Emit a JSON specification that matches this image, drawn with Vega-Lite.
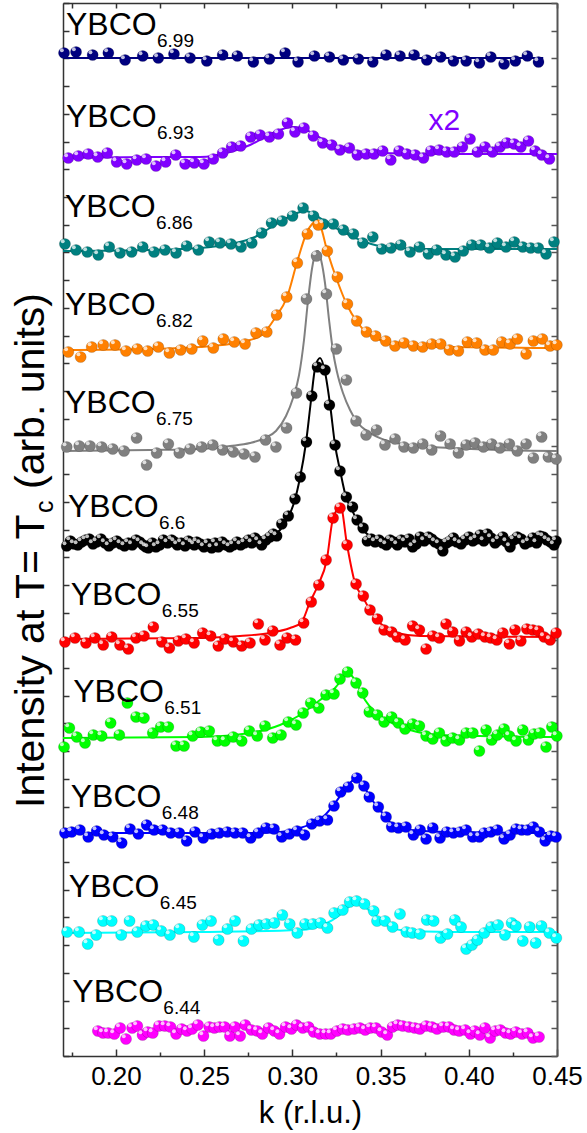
{
"$schema":"https://vega.github.io/schema/vega-lite/v6.json",
"width":494,"height":1053,
"autosize":{"type":"none"},
"padding":{"left":63,"top":3,"right":30,"bottom":77},
"background":"white",
"config":{"view":{"stroke":null},"font":"Liberation Sans"},
"datasets":{
"pts":[
{"s":"6.99","k":0.1706,"I":1003},{"s":"6.99","k":0.1774,"I":1004},{"s":"6.99","k":0.1868,"I":1001},{"s":"6.99","k":0.1957,"I":1003},{"s":"6.99","k":0.2052,"I":996},{"s":"6.99","k":0.2152,"I":1000},{"s":"6.99","k":0.224,"I":998},{"s":"6.99","k":0.2329,"I":1002},{"s":"6.99","k":0.242,"I":998},{"s":"6.99","k":0.2515,"I":995},{"s":"6.99","k":0.2605,"I":1001},{"s":"6.99","k":0.2688,"I":1000},{"s":"6.99","k":0.2779,"I":994},{"s":"6.99","k":0.287,"I":997},{"s":"6.99","k":0.2959,"I":1003},{"s":"6.99","k":0.3032,"I":994},{"s":"6.99","k":0.3125,"I":1000},{"s":"6.99","k":0.321,"I":999},{"s":"6.99","k":0.3289,"I":996},{"s":"6.99","k":0.3374,"I":997},{"s":"6.99","k":0.3456,"I":994},{"s":"6.99","k":0.3531,"I":1001},{"s":"6.99","k":0.361,"I":1000},{"s":"6.99","k":0.369,"I":1001},{"s":"6.99","k":0.3762,"I":996},{"s":"6.99","k":0.3841,"I":999},{"s":"6.99","k":0.3913,"I":995},{"s":"6.99","k":0.3985,"I":995},{"s":"6.99","k":0.406,"I":993},{"s":"6.99","k":0.4125,"I":999},{"s":"6.99","k":0.42,"I":992},{"s":"6.99","k":0.4264,"I":995},{"s":"6.99","k":0.4332,"I":1000},{"s":"6.99","k":0.4395,"I":994},
{"s":"6.93","k":0.173,"I":898},{"s":"6.93","k":0.1787,"I":900},{"s":"6.93","k":0.1843,"I":902},{"s":"6.93","k":0.1897,"I":899},{"s":"6.93","k":0.1951,"I":903},{"s":"6.93","k":0.2004,"I":894},{"s":"6.93","k":0.2061,"I":892},{"s":"6.93","k":0.2118,"I":896},{"s":"6.93","k":0.2171,"I":897},{"s":"6.93","k":0.2227,"I":890},{"s":"6.93","k":0.2282,"I":894},{"s":"6.93","k":0.2339,"I":901},{"s":"6.93","k":0.2392,"I":892},{"s":"6.93","k":0.2444,"I":893},{"s":"6.93","k":0.2499,"I":892},{"s":"6.93","k":0.2552,"I":897},{"s":"6.93","k":0.2605,"I":903},{"s":"6.93","k":0.2656,"I":909},{"s":"6.93","k":0.2707,"I":910},{"s":"6.93","k":0.2764,"I":919},{"s":"6.93","k":0.2817,"I":921},{"s":"6.93","k":0.287,"I":919},{"s":"6.93","k":0.2921,"I":922},{"s":"6.93","k":0.2972,"I":933},{"s":"6.93","k":0.3015,"I":924},{"s":"6.93","k":0.3066,"I":928},{"s":"6.93","k":0.3119,"I":920},{"s":"6.93","k":0.3172,"I":913},{"s":"6.93","k":0.3223,"I":911},{"s":"6.93","k":0.327,"I":906},{"s":"6.93","k":0.3323,"I":908},{"s":"6.93","k":0.3368,"I":901},{"s":"6.93","k":0.3418,"I":902},{"s":"6.93","k":0.3463,"I":902},{"s":"6.93","k":0.3512,"I":905},{"s":"6.93","k":0.3558,"I":896},{"s":"6.93","k":0.3605,"I":905},{"s":"6.93","k":0.3649,"I":902},{"s":"6.93","k":0.3696,"I":901},{"s":"6.93","k":0.3743,"I":898},{"s":"6.93","k":0.3785,"I":905},{"s":"6.93","k":0.3832,"I":906},{"s":"6.93","k":0.3875,"I":904},{"s":"6.93","k":0.3918,"I":904},{"s":"6.93","k":0.3964,"I":909},{"s":"6.93","k":0.4007,"I":917},{"s":"6.93","k":0.4049,"I":904},{"s":"6.93","k":0.4092,"I":909},{"s":"6.93","k":0.4134,"I":904},{"s":"6.93","k":0.4177,"I":909},{"s":"6.93","k":0.4215,"I":913},{"s":"6.93","k":0.4257,"I":912},{"s":"6.93","k":0.4295,"I":909},{"s":"6.93","k":0.4338,"I":915},{"s":"6.93","k":0.4376,"I":905},{"s":"6.93","k":0.4414,"I":901},{"s":"6.93","k":0.4457,"I":897},
{"s":"6.86","k":0.1711,"I":812},{"s":"6.86","k":0.1774,"I":806},{"s":"6.86","k":0.1838,"I":804},{"s":"6.86","k":0.19,"I":801},{"s":"6.86","k":0.1962,"I":809},{"s":"6.86","k":0.2023,"I":803},{"s":"6.86","k":0.2089,"I":804},{"s":"6.86","k":0.2152,"I":809},{"s":"6.86","k":0.2216,"I":804},{"s":"6.86","k":0.2278,"I":806},{"s":"6.86","k":0.2341,"I":803},{"s":"6.86","k":0.2401,"I":810},{"s":"6.86","k":0.2467,"I":806},{"s":"6.86","k":0.2529,"I":814},{"s":"6.86","k":0.259,"I":813},{"s":"6.86","k":0.2652,"I":812},{"s":"6.86","k":0.2709,"I":809},{"s":"6.86","k":0.277,"I":813},{"s":"6.86","k":0.2826,"I":823},{"s":"6.86","k":0.2882,"I":833},{"s":"6.86","k":0.2942,"I":835},{"s":"6.86","k":0.3001,"I":840},{"s":"6.86","k":0.3061,"I":848},{"s":"6.86","k":0.312,"I":840},{"s":"6.86","k":0.3176,"I":832},{"s":"6.86","k":0.3232,"I":832},{"s":"6.86","k":0.3289,"I":826},{"s":"6.86","k":0.3346,"I":822},{"s":"6.86","k":0.3399,"I":813},{"s":"6.86","k":0.3456,"I":819},{"s":"6.86","k":0.3507,"I":807},{"s":"6.86","k":0.3559,"I":808},{"s":"6.86","k":0.3614,"I":811},{"s":"6.86","k":0.3667,"I":804},{"s":"6.86","k":0.372,"I":809},{"s":"6.86","k":0.3771,"I":802},{"s":"6.86","k":0.3818,"I":806},{"s":"6.86","k":0.3871,"I":801},{"s":"6.86","k":0.3922,"I":799},{"s":"6.86","k":0.3969,"I":805},{"s":"6.86","k":0.4017,"I":811},{"s":"6.86","k":0.4068,"I":811},{"s":"6.86","k":0.4117,"I":808},{"s":"6.86","k":0.4162,"I":813},{"s":"6.86","k":0.4211,"I":809},{"s":"6.86","k":0.4258,"I":814},{"s":"6.86","k":0.4306,"I":809},{"s":"6.86","k":0.4351,"I":808},{"s":"6.86","k":0.4394,"I":808},{"s":"6.86","k":0.4438,"I":802},{"s":"6.86","k":0.4483,"I":814},
{"s":"6.82","k":0.173,"I":704},{"s":"6.82","k":0.18,"I":699},{"s":"6.82","k":0.1863,"I":709},{"s":"6.82","k":0.1928,"I":711},{"s":"6.82","k":0.1995,"I":711},{"s":"6.82","k":0.2057,"I":705},{"s":"6.82","k":0.2121,"I":707},{"s":"6.82","k":0.218,"I":705},{"s":"6.82","k":0.224,"I":709},{"s":"6.82","k":0.2303,"I":703},{"s":"6.82","k":0.2367,"I":706},{"s":"6.82","k":0.243,"I":707},{"s":"6.82","k":0.2492,"I":715},{"s":"6.82","k":0.2552,"I":708},{"s":"6.82","k":0.2609,"I":717},{"s":"6.82","k":0.2671,"I":714},{"s":"6.82","k":0.2732,"I":712},{"s":"6.82","k":0.2794,"I":723},{"s":"6.82","k":0.2855,"I":724},{"s":"6.82","k":0.2911,"I":741},{"s":"6.82","k":0.2968,"I":759},{"s":"6.82","k":0.3028,"I":793},{"s":"6.82","k":0.3085,"I":822},{"s":"6.82","k":0.3147,"I":831},{"s":"6.82","k":0.3198,"I":805},{"s":"6.82","k":0.3255,"I":779},{"s":"6.82","k":0.3312,"I":752},{"s":"6.82","k":0.3365,"I":735},{"s":"6.82","k":0.342,"I":724},{"s":"6.82","k":0.3472,"I":720},{"s":"6.82","k":0.3529,"I":715},{"s":"6.82","k":0.3582,"I":710},{"s":"6.82","k":0.3633,"I":713},{"s":"6.82","k":0.3686,"I":710},{"s":"6.82","k":0.3739,"I":709},{"s":"6.82","k":0.379,"I":712},{"s":"6.82","k":0.3841,"I":712},{"s":"6.82","k":0.389,"I":706},{"s":"6.82","k":0.3941,"I":705},{"s":"6.82","k":0.3992,"I":714},{"s":"6.82","k":0.4045,"I":713},{"s":"6.82","k":0.4092,"I":706},{"s":"6.82","k":0.4139,"I":706},{"s":"6.82","k":0.4187,"I":714},{"s":"6.82","k":0.4234,"I":712},{"s":"6.82","k":0.4275,"I":717},{"s":"6.82","k":0.4325,"I":702},{"s":"6.82","k":0.4366,"I":715},{"s":"6.82","k":0.4417,"I":717},{"s":"6.82","k":0.4461,"I":710},{"s":"6.82","k":0.4499,"I":711},
{"s":"6.75","k":0.1721,"I":609},{"s":"6.75","k":0.1792,"I":610},{"s":"6.75","k":0.1853,"I":610},{"s":"6.75","k":0.1919,"I":609},{"s":"6.75","k":0.1982,"I":607},{"s":"6.75","k":0.2046,"I":605},{"s":"6.75","k":0.2117,"I":618},{"s":"6.75","k":0.2174,"I":591},{"s":"6.75","k":0.2231,"I":603},{"s":"6.75","k":0.2297,"I":612},{"s":"6.75","k":0.2359,"I":603},{"s":"6.75","k":0.242,"I":607},{"s":"6.75","k":0.2486,"I":609},{"s":"6.75","k":0.2549,"I":611},{"s":"6.75","k":0.2605,"I":606},{"s":"6.75","k":0.2665,"I":604},{"s":"6.75","k":0.2726,"I":602},{"s":"6.75","k":0.2788,"I":599},{"s":"6.75","k":0.2848,"I":616},{"s":"6.75","k":0.2907,"I":609},{"s":"6.75","k":0.2967,"I":628},{"s":"6.75","k":0.3023,"I":663},{"s":"6.75","k":0.308,"I":757},{"s":"6.75","k":0.3137,"I":800},{"s":"6.75","k":0.3193,"I":762},{"s":"6.75","k":0.3249,"I":707},{"s":"6.75","k":0.3306,"I":676},{"s":"6.75","k":0.3361,"I":635},{"s":"6.75","k":0.3418,"I":621},{"s":"6.75","k":0.3477,"I":626},{"s":"6.75","k":0.3525,"I":611},{"s":"6.75","k":0.3582,"I":617},{"s":"6.75","k":0.3633,"I":609},{"s":"6.75","k":0.3686,"I":608},{"s":"6.75","k":0.3739,"I":612},{"s":"6.75","k":0.379,"I":606},{"s":"6.75","k":0.384,"I":620},{"s":"6.75","k":0.3894,"I":612},{"s":"6.75","k":0.3941,"I":603},{"s":"6.75","k":0.3985,"I":611},{"s":"6.75","k":0.4036,"I":613},{"s":"6.75","k":0.4083,"I":609},{"s":"6.75","k":0.413,"I":612},{"s":"6.75","k":0.4177,"I":608},{"s":"6.75","k":0.423,"I":612},{"s":"6.75","k":0.4275,"I":605},{"s":"6.75","k":0.4325,"I":612},{"s":"6.75","k":0.4366,"I":598},{"s":"6.75","k":0.4413,"I":619},{"s":"6.75","k":0.4451,"I":599},{"s":"6.75","k":0.4495,"I":597},
{"s":"6.6","k":0.1721,"I":510},{"s":"6.6","k":0.1762,"I":512},{"s":"6.6","k":0.1806,"I":514},{"s":"6.6","k":0.1849,"I":517},{"s":"6.6","k":0.1891,"I":514},{"s":"6.6","k":0.1938,"I":513},{"s":"6.6","k":0.1982,"I":513},{"s":"6.6","k":0.2027,"I":512},{"s":"6.6","k":0.207,"I":513},{"s":"6.6","k":0.2114,"I":516},{"s":"6.6","k":0.2155,"I":511},{"s":"6.6","k":0.2184,"I":508},{"s":"6.6","k":0.2227,"I":509},{"s":"6.6","k":0.2269,"I":516},{"s":"6.6","k":0.2316,"I":516},{"s":"6.6","k":0.2348,"I":511},{"s":"6.6","k":0.2392,"I":510},{"s":"6.6","k":0.243,"I":513},{"s":"6.6","k":0.2458,"I":514},{"s":"6.6","k":0.2499,"I":509},{"s":"6.6","k":0.2543,"I":508},{"s":"6.6","k":0.258,"I":509},{"s":"6.6","k":0.2624,"I":511},{"s":"6.6","k":0.2665,"I":511},{"s":"6.6","k":0.2707,"I":511},{"s":"6.6","k":0.2751,"I":516},{"s":"6.6","k":0.2788,"I":518},{"s":"6.6","k":0.2826,"I":511},{"s":"6.6","k":0.2873,"I":519},{"s":"6.6","k":0.2911,"I":520},{"s":"6.6","k":0.294,"I":532},{"s":"6.6","k":0.2977,"I":540},{"s":"6.6","k":0.3015,"I":557},{"s":"6.6","k":0.3045,"I":579},{"s":"6.6","k":0.308,"I":614},{"s":"6.6","k":0.311,"I":660},{"s":"6.6","k":0.3142,"I":689},{"s":"6.6","k":0.3185,"I":686},{"s":"6.6","k":0.321,"I":651},{"s":"6.6","k":0.3242,"I":611},{"s":"6.6","k":0.327,"I":585},{"s":"6.6","k":0.3306,"I":559},{"s":"6.6","k":0.3341,"I":549},{"s":"6.6","k":0.3367,"I":536},{"s":"6.6","k":0.3401,"I":528},{"s":"6.6","k":0.3425,"I":515},{"s":"6.6","k":0.3469,"I":514},{"s":"6.6","k":0.3512,"I":513},{"s":"6.6","k":0.3554,"I":516},{"s":"6.6","k":0.3595,"I":511},{"s":"6.6","k":0.3639,"I":514},{"s":"6.6","k":0.3682,"I":509},{"s":"6.6","k":0.3724,"I":519},{"s":"6.6","k":0.3771,"I":519},{"s":"6.6","k":0.3809,"I":514},{"s":"6.6","k":0.3853,"I":505},{"s":"6.6","k":0.3894,"I":515},{"s":"6.6","k":0.3932,"I":514},{"s":"6.6","k":0.3979,"I":516},{"s":"6.6","k":0.4023,"I":515},{"s":"6.6","k":0.4064,"I":521},{"s":"6.6","k":0.4105,"I":522},{"s":"6.6","k":0.4149,"I":513},{"s":"6.6","k":0.4193,"I":519},{"s":"6.6","k":0.4234,"I":509},{"s":"6.6","k":0.4275,"I":519},{"s":"6.6","k":0.4319,"I":512},{"s":"6.6","k":0.4363,"I":518},{"s":"6.6","k":0.4404,"I":520},{"s":"6.6","k":0.4442,"I":516},{"s":"6.6","k":0.4483,"I":511},
{"s":"6.6","k":0.1742,"I":515},{"s":"6.6","k":0.1784,"I":511},{"s":"6.6","k":0.1828,"I":516},{"s":"6.6","k":0.187,"I":512},{"s":"6.6","k":0.1915,"I":517},{"s":"6.6","k":0.196,"I":510},{"s":"6.6","k":0.2005,"I":515},{"s":"6.6","k":0.2049,"I":510},{"s":"6.6","k":0.2092,"I":511},{"s":"6.6","k":0.2135,"I":514},{"s":"6.6","k":0.217,"I":509},{"s":"6.6","k":0.2206,"I":513},{"s":"6.6","k":0.2248,"I":511},{"s":"6.6","k":0.2293,"I":513},{"s":"6.6","k":0.2332,"I":514},{"s":"6.6","k":0.237,"I":513},{"s":"6.6","k":0.2411,"I":515},{"s":"6.6","k":0.2444,"I":511},{"s":"6.6","k":0.2479,"I":512},{"s":"6.6","k":0.2521,"I":512},{"s":"6.6","k":0.2562,"I":513},{"s":"6.6","k":0.2602,"I":514},{"s":"6.6","k":0.2645,"I":509},{"s":"6.6","k":0.2686,"I":514},{"s":"6.6","k":0.2729,"I":513},{"s":"6.6","k":0.277,"I":513},{"s":"6.6","k":0.2807,"I":515},{"s":"6.6","k":0.285,"I":516},{"s":"6.6","k":0.2892,"I":522},{"s":"6.6","k":0.3447,"I":517},{"s":"6.6","k":0.3491,"I":516},{"s":"6.6","k":0.3533,"I":511},{"s":"6.6","k":0.3575,"I":514},{"s":"6.6","k":0.3617,"I":516},{"s":"6.6","k":0.3661,"I":517},{"s":"6.6","k":0.3703,"I":512},{"s":"6.6","k":0.3748,"I":515},{"s":"6.6","k":0.379,"I":517},{"s":"6.6","k":0.3831,"I":512},{"s":"6.6","k":0.3874,"I":513},{"s":"6.6","k":0.3913,"I":518},{"s":"6.6","k":0.3956,"I":512},{"s":"6.6","k":0.4001,"I":519},{"s":"6.6","k":0.4044,"I":517},{"s":"6.6","k":0.4085,"I":515},{"s":"6.6","k":0.4127,"I":518},{"s":"6.6","k":0.4171,"I":516},{"s":"6.6","k":0.4214,"I":514},{"s":"6.6","k":0.4255,"I":516},{"s":"6.6","k":0.4297,"I":517},{"s":"6.6","k":0.4341,"I":514},{"s":"6.6","k":0.4384,"I":513},{"s":"6.6","k":0.4423,"I":519},{"s":"6.6","k":0.4463,"I":514},{"s":"6.6","k":0.4495,"I":515},
{"s":"6.55","k":0.1711,"I":414},{"s":"6.55","k":0.1768,"I":418},{"s":"6.55","k":0.183,"I":413},{"s":"6.55","k":0.1881,"I":418},{"s":"6.55","k":0.1928,"I":411},{"s":"6.55","k":0.1976,"I":419},{"s":"6.55","k":0.2023,"I":411},{"s":"6.55","k":0.207,"I":407},{"s":"6.55","k":0.2114,"I":418},{"s":"6.55","k":0.2159,"I":420},{"s":"6.55","k":0.2212,"I":429},{"s":"6.55","k":0.226,"I":414},{"s":"6.55","k":0.2303,"I":408},{"s":"6.55","k":0.2354,"I":415},{"s":"6.55","k":0.2397,"I":417},{"s":"6.55","k":0.2443,"I":413},{"s":"6.55","k":0.2492,"I":423},{"s":"6.55","k":0.2537,"I":420},{"s":"6.55","k":0.258,"I":410},{"s":"6.55","k":0.2618,"I":417},{"s":"6.55","k":0.2665,"I":414},{"s":"6.55","k":0.2713,"I":410},{"s":"6.55","k":0.276,"I":413},{"s":"6.55","k":0.2807,"I":432},{"s":"6.55","k":0.2845,"I":416},{"s":"6.55","k":0.2889,"I":425},{"s":"6.55","k":0.293,"I":411},{"s":"6.55","k":0.297,"I":418},{"s":"6.55","k":0.3018,"I":416},{"s":"6.55","k":0.3064,"I":433},{"s":"6.55","k":0.3107,"I":454},{"s":"6.55","k":0.315,"I":471},{"s":"6.55","k":0.3191,"I":496},{"s":"6.55","k":0.3231,"I":538},{"s":"6.55","k":0.327,"I":548},{"s":"6.55","k":0.331,"I":511},{"s":"6.55","k":0.3361,"I":472},{"s":"6.55","k":0.3402,"I":460},{"s":"6.55","k":0.344,"I":446},{"s":"6.55","k":0.3482,"I":437},{"s":"6.55","k":0.352,"I":426},{"s":"6.55","k":0.3563,"I":424},{"s":"6.55","k":0.3595,"I":419},{"s":"6.55","k":0.3639,"I":416},{"s":"6.55","k":0.3682,"I":430},{"s":"6.55","k":0.372,"I":426},{"s":"6.55","k":0.3758,"I":407},{"s":"6.55","k":0.3796,"I":420},{"s":"6.55","k":0.3833,"I":418},{"s":"6.55","k":0.3871,"I":432},{"s":"6.55","k":0.3909,"I":424},{"s":"6.55","k":0.3947,"I":415},{"s":"6.55","k":0.3985,"I":424},{"s":"6.55","k":0.4017,"I":419},{"s":"6.55","k":0.4054,"I":422},{"s":"6.55","k":0.4092,"I":419},{"s":"6.55","k":0.4125,"I":418},{"s":"6.55","k":0.4159,"I":416},{"s":"6.55","k":0.4193,"I":423},{"s":"6.55","k":0.423,"I":412},{"s":"6.55","k":0.4262,"I":426},{"s":"6.55","k":0.4295,"I":415},{"s":"6.55","k":0.4329,"I":427},{"s":"6.55","k":0.4363,"I":426},{"s":"6.55","k":0.4395,"I":425},{"s":"6.55","k":0.4427,"I":419},{"s":"6.55","k":0.4461,"I":416},{"s":"6.55","k":0.4495,"I":423},
{"s":"6.51","k":0.1706,"I":309},{"s":"6.51","k":0.1736,"I":328},{"s":"6.51","k":0.1778,"I":319},{"s":"6.51","k":0.1825,"I":313},{"s":"6.51","k":0.1872,"I":321},{"s":"6.51","k":0.1919,"I":320},{"s":"6.51","k":0.197,"I":333},{"s":"6.51","k":0.2019,"I":321},{"s":"6.51","k":0.2065,"I":353},{"s":"6.51","k":0.2114,"I":339},{"s":"6.51","k":0.2159,"I":338},{"s":"6.51","k":0.2209,"I":323},{"s":"6.51","k":0.2254,"I":329},{"s":"6.51","k":0.2297,"I":329},{"s":"6.51","k":0.2341,"I":310},{"s":"6.51","k":0.2386,"I":310},{"s":"6.51","k":0.2435,"I":320},{"s":"6.51","k":0.2481,"I":324},{"s":"6.51","k":0.2529,"I":325},{"s":"6.51","k":0.2575,"I":315},{"s":"6.51","k":0.2618,"I":315},{"s":"6.51","k":0.2665,"I":319},{"s":"6.51","k":0.2713,"I":315},{"s":"6.51","k":0.2756,"I":325},{"s":"6.51","k":0.2801,"I":320},{"s":"6.51","k":0.2845,"I":330},{"s":"6.51","k":0.2889,"I":318},{"s":"6.51","k":0.2936,"I":321},{"s":"6.51","k":0.2977,"I":334},{"s":"6.51","k":0.3021,"I":331},{"s":"6.51","k":0.3061,"I":343},{"s":"6.51","k":0.3104,"I":353},{"s":"6.51","k":0.315,"I":348},{"s":"6.51","k":0.3191,"I":361},{"s":"6.51","k":0.3236,"I":362},{"s":"6.51","k":0.327,"I":377},{"s":"6.51","k":0.3313,"I":384},{"s":"6.51","k":0.3361,"I":373},{"s":"6.51","k":0.3399,"I":363},{"s":"6.51","k":0.3436,"I":344},{"s":"6.51","k":0.3482,"I":341},{"s":"6.51","k":0.352,"I":334},{"s":"6.51","k":0.3563,"I":339},{"s":"6.51","k":0.3601,"I":333},{"s":"6.51","k":0.3639,"I":327},{"s":"6.51","k":0.3682,"I":332},{"s":"6.51","k":0.372,"I":330},{"s":"6.51","k":0.3758,"I":320},{"s":"6.51","k":0.3796,"I":317},{"s":"6.51","k":0.3833,"I":323},{"s":"6.51","k":0.3871,"I":315},{"s":"6.51","k":0.3909,"I":318},{"s":"6.51","k":0.3947,"I":316},{"s":"6.51","k":0.3985,"I":323},{"s":"6.51","k":0.4023,"I":323},{"s":"6.51","k":0.406,"I":305},{"s":"6.51","k":0.4098,"I":326},{"s":"6.51","k":0.413,"I":316},{"s":"6.51","k":0.4162,"I":321},{"s":"6.51","k":0.42,"I":327},{"s":"6.51","k":0.423,"I":320},{"s":"6.51","k":0.4268,"I":315},{"s":"6.51","k":0.4306,"I":326},{"s":"6.51","k":0.4338,"I":316},{"s":"6.51","k":0.437,"I":322},{"s":"6.51","k":0.4404,"I":323},{"s":"6.51","k":0.4438,"I":309},{"s":"6.51","k":0.4471,"I":329},{"s":"6.51","k":0.4499,"I":320},
{"s":"6.48","k":0.1711,"I":223},{"s":"6.48","k":0.1749,"I":224},{"s":"6.48","k":0.1796,"I":226},{"s":"6.48","k":0.1843,"I":219},{"s":"6.48","k":0.1891,"I":225},{"s":"6.48","k":0.1932,"I":221},{"s":"6.48","k":0.1982,"I":219},{"s":"6.48","k":0.2033,"I":213},{"s":"6.48","k":0.208,"I":227},{"s":"6.48","k":0.2127,"I":222},{"s":"6.48","k":0.2174,"I":231},{"s":"6.48","k":0.2216,"I":226},{"s":"6.48","k":0.2265,"I":226},{"s":"6.48","k":0.2311,"I":223},{"s":"6.48","k":0.2359,"I":223},{"s":"6.48","k":0.2401,"I":215},{"s":"6.48","k":0.2448,"I":224},{"s":"6.48","k":0.2495,"I":218},{"s":"6.48","k":0.2543,"I":222},{"s":"6.48","k":0.2586,"I":223},{"s":"6.48","k":0.2631,"I":224},{"s":"6.48","k":0.2675,"I":223},{"s":"6.48","k":0.2719,"I":223},{"s":"6.48","k":0.2764,"I":218},{"s":"6.48","k":0.2807,"I":223},{"s":"6.48","k":0.2851,"I":228},{"s":"6.48","k":0.2896,"I":227},{"s":"6.48","k":0.294,"I":219},{"s":"6.48","k":0.2983,"I":222},{"s":"6.48","k":0.3027,"I":225},{"s":"6.48","k":0.3069,"I":221},{"s":"6.48","k":0.311,"I":232},{"s":"6.48","k":0.3155,"I":235},{"s":"6.48","k":0.3199,"I":236},{"s":"6.48","k":0.3236,"I":250},{"s":"6.48","k":0.3274,"I":264},{"s":"6.48","k":0.3317,"I":269},{"s":"6.48","k":0.3365,"I":278},{"s":"6.48","k":0.3406,"I":270},{"s":"6.48","k":0.3436,"I":259},{"s":"6.48","k":0.3487,"I":249},{"s":"6.48","k":0.3531,"I":239},{"s":"6.48","k":0.3563,"I":229},{"s":"6.48","k":0.3601,"I":228},{"s":"6.48","k":0.3644,"I":229},{"s":"6.48","k":0.3686,"I":221},{"s":"6.48","k":0.3724,"I":226},{"s":"6.48","k":0.3758,"I":217},{"s":"6.48","k":0.3796,"I":228},{"s":"6.48","k":0.3837,"I":218},{"s":"6.48","k":0.3875,"I":224},{"s":"6.48","k":0.3913,"I":223},{"s":"6.48","k":0.3951,"I":224},{"s":"6.48","k":0.3985,"I":226},{"s":"6.48","k":0.4023,"I":219},{"s":"6.48","k":0.406,"I":219},{"s":"6.48","k":0.4087,"I":223},{"s":"6.48","k":0.4125,"I":224},{"s":"6.48","k":0.4162,"I":226},{"s":"6.48","k":0.42,"I":217},{"s":"6.48","k":0.4234,"I":221},{"s":"6.48","k":0.4268,"I":227},{"s":"6.48","k":0.43,"I":226},{"s":"6.48","k":0.4332,"I":226},{"s":"6.48","k":0.4366,"I":229},{"s":"6.48","k":0.44,"I":224},{"s":"6.48","k":0.4433,"I":215},{"s":"6.48","k":0.4465,"I":220},{"s":"6.48","k":0.4495,"I":219},
{"s":"6.45","k":0.1723,"I":124},{"s":"6.45","k":0.1791,"I":124},{"s":"6.45","k":0.184,"I":112},{"s":"6.45","k":0.1888,"I":121},{"s":"6.45","k":0.1927,"I":135},{"s":"6.45","k":0.1976,"I":135},{"s":"6.45","k":0.203,"I":121},{"s":"6.45","k":0.2077,"I":135},{"s":"6.45","k":0.2121,"I":124},{"s":"6.45","k":0.217,"I":130},{"s":"6.45","k":0.2212,"I":131},{"s":"6.45","k":0.2257,"I":125},{"s":"6.45","k":0.2306,"I":121},{"s":"6.45","k":0.236,"I":127},{"s":"6.45","k":0.2442,"I":119},{"s":"6.45","k":0.249,"I":131},{"s":"6.45","k":0.2539,"I":135},{"s":"6.45","k":0.2582,"I":116},{"s":"6.45","k":0.2632,"I":127},{"s":"6.45","k":0.2675,"I":135},{"s":"6.45","k":0.2723,"I":115},{"s":"6.45","k":0.2768,"I":127},{"s":"6.45","k":0.2811,"I":131},{"s":"6.45","k":0.2853,"I":132},{"s":"6.45","k":0.2898,"I":133},{"s":"6.45","k":0.2943,"I":141},{"s":"6.45","k":0.2985,"I":132},{"s":"6.45","k":0.3028,"I":123},{"s":"6.45","k":0.3072,"I":132},{"s":"6.45","k":0.3117,"I":132},{"s":"6.45","k":0.316,"I":133},{"s":"6.45","k":0.3199,"I":128},{"s":"6.45","k":0.3237,"I":143},{"s":"6.45","k":0.3286,"I":146},{"s":"6.45","k":0.3325,"I":154},{"s":"6.45","k":0.3364,"I":155},{"s":"6.45","k":0.3409,"I":152},{"s":"6.45","k":0.3461,"I":145},{"s":"6.45","k":0.348,"I":135},{"s":"6.45","k":0.3525,"I":135},{"s":"6.45","k":0.3568,"I":129},{"s":"6.45","k":0.361,"I":142},{"s":"6.45","k":0.3646,"I":124},{"s":"6.45","k":0.368,"I":123},{"s":"6.45","k":0.3723,"I":122},{"s":"6.45","k":0.3762,"I":136},{"s":"6.45","k":0.3801,"I":135},{"s":"6.45","k":0.384,"I":118},{"s":"6.45","k":0.3879,"I":122},{"s":"6.45","k":0.3921,"I":136},{"s":"6.45","k":0.3956,"I":129},{"s":"6.45","k":0.3985,"I":107},{"s":"6.45","k":0.4018,"I":111},{"s":"6.45","k":0.4049,"I":116},{"s":"6.45","k":0.4088,"I":123},{"s":"6.45","k":0.4127,"I":129},{"s":"6.45","k":0.4166,"I":131},{"s":"6.45","k":0.4205,"I":121},{"s":"6.45","k":0.4243,"I":133},{"s":"6.45","k":0.4267,"I":130},{"s":"6.45","k":0.4306,"I":115},{"s":"6.45","k":0.4345,"I":129},{"s":"6.45","k":0.4379,"I":113},{"s":"6.45","k":0.4412,"I":130},{"s":"6.45","k":0.4457,"I":123},{"s":"6.45","k":0.4496,"I":118},
{"s":"6.44","k":0.1898,"I":25},{"s":"6.44","k":0.1927,"I":23},{"s":"6.44","k":0.1956,"I":23},{"s":"6.44","k":0.1991,"I":22},{"s":"6.44","k":0.2024,"I":28},{"s":"6.44","k":0.2057,"I":17},{"s":"6.44","k":0.2092,"I":28},{"s":"6.44","k":0.2121,"I":30},{"s":"6.44","k":0.2151,"I":21},{"s":"6.44","k":0.218,"I":24},{"s":"6.44","k":0.2209,"I":23},{"s":"6.44","k":0.2244,"I":30},{"s":"6.44","k":0.2277,"I":30},{"s":"6.44","k":0.2309,"I":29},{"s":"6.44","k":0.2341,"I":22},{"s":"6.44","k":0.2373,"I":27},{"s":"6.44","k":0.2403,"I":25},{"s":"6.44","k":0.2432,"I":27},{"s":"6.44","k":0.2465,"I":31},{"s":"6.44","k":0.2496,"I":20},{"s":"6.44","k":0.2529,"I":29},{"s":"6.44","k":0.2558,"I":28},{"s":"6.44","k":0.2587,"I":29},{"s":"6.44","k":0.2617,"I":29},{"s":"6.44","k":0.2646,"I":20},{"s":"6.44","k":0.2675,"I":29},{"s":"6.44","k":0.2704,"I":20},{"s":"6.44","k":0.2733,"I":31},{"s":"6.44","k":0.2768,"I":26},{"s":"6.44","k":0.2801,"I":25},{"s":"6.44","k":0.283,"I":22},{"s":"6.44","k":0.2865,"I":28},{"s":"6.44","k":0.2898,"I":25},{"s":"6.44","k":0.2927,"I":22},{"s":"6.44","k":0.2962,"I":29},{"s":"6.44","k":0.2995,"I":27},{"s":"6.44","k":0.3024,"I":31},{"s":"6.44","k":0.3059,"I":28},{"s":"6.44","k":0.3092,"I":29},{"s":"6.44","k":0.3121,"I":24},{"s":"6.44","k":0.3156,"I":22},{"s":"6.44","k":0.3189,"I":22},{"s":"6.44","k":0.3218,"I":22},{"s":"6.44","k":0.3253,"I":25},{"s":"6.44","k":0.3286,"I":27},{"s":"6.44","k":0.3315,"I":26},{"s":"6.44","k":0.335,"I":27},{"s":"6.44","k":0.3383,"I":28},{"s":"6.44","k":0.3413,"I":26},{"s":"6.44","k":0.3442,"I":28},{"s":"6.44","k":0.3474,"I":28},{"s":"6.44","k":0.3506,"I":24},{"s":"6.44","k":0.3538,"I":21},{"s":"6.44","k":0.3568,"I":29},{"s":"6.44","k":0.3597,"I":31},{"s":"6.44","k":0.3626,"I":30},{"s":"6.44","k":0.3661,"I":29},{"s":"6.44","k":0.3694,"I":28},{"s":"6.44","k":0.3723,"I":27},{"s":"6.44","k":0.3758,"I":30},{"s":"6.44","k":0.3791,"I":29},{"s":"6.44","k":0.382,"I":27},{"s":"6.44","k":0.3855,"I":29},{"s":"6.44","k":0.3888,"I":29},{"s":"6.44","k":0.3917,"I":26},{"s":"6.44","k":0.3946,"I":25},{"s":"6.44","k":0.398,"I":26},{"s":"6.44","k":0.401,"I":22},{"s":"6.44","k":0.4034,"I":25},{"s":"6.44","k":0.4063,"I":21},{"s":"6.44","k":0.4092,"I":28},{"s":"6.44","k":0.4121,"I":18},{"s":"6.44","k":0.415,"I":25},{"s":"6.44","k":0.4179,"I":26},{"s":"6.44","k":0.4209,"I":23},{"s":"6.44","k":0.4237,"I":22},{"s":"6.44","k":0.4267,"I":24},{"s":"6.44","k":0.4302,"I":22},{"s":"6.44","k":0.4334,"I":23},{"s":"6.44","k":0.4364,"I":18},{"s":"6.44","k":0.4398,"I":19}
],
"fit":[
{"s":"6.99","k":0.17,"I":998},{"s":"6.99","k":0.4422,"I":998},
{"s":"6.93","k":0.17,"I":898},{"s":"6.93","k":0.2193,"I":899},{"s":"6.93","k":0.2477,"I":899},{"s":"6.93","k":0.2647,"I":904},{"s":"6.93","k":0.276,"I":911},{"s":"6.93","k":0.2845,"I":919},{"s":"6.93","k":0.293,"I":926},{"s":"6.93","k":0.2998,"I":929},{"s":"6.93","k":0.3055,"I":928},{"s":"6.93","k":0.3129,"I":921},{"s":"6.93","k":0.3214,"I":913},{"s":"6.93","k":0.3327,"I":906},{"s":"6.93","k":0.3497,"I":903},{"s":"6.93","k":0.3894,"I":902},{"s":"6.93","k":0.45,"I":902},
{"s":"6.86","k":0.17,"I":805},{"s":"6.86","k":0.2193,"I":806},{"s":"6.86","k":0.2477,"I":808},{"s":"6.86","k":0.2647,"I":812},{"s":"6.86","k":0.2788,"I":819},{"s":"6.86","k":0.2873,"I":828},{"s":"6.86","k":0.2958,"I":837},{"s":"6.86","k":0.3044,"I":844},{"s":"6.86","k":0.3078,"I":845},{"s":"6.86","k":0.3129,"I":841},{"s":"6.86","k":0.3214,"I":831},{"s":"6.86","k":0.3299,"I":823},{"s":"6.86","k":0.3384,"I":816},{"s":"6.86","k":0.3497,"I":810},{"s":"6.86","k":0.3724,"I":807},{"s":"6.86","k":0.45,"I":807},
{"s":"6.82","k":0.17,"I":706},{"s":"6.82","k":0.2193,"I":707},{"s":"6.82","k":0.2477,"I":709},{"s":"6.82","k":0.2647,"I":712},{"s":"6.82","k":0.276,"I":716},{"s":"6.82","k":0.2828,"I":721},{"s":"6.82","k":0.2902,"I":738},{"s":"6.82","k":0.297,"I":759},{"s":"6.82","k":0.3027,"I":794},{"s":"6.82","k":0.3083,"I":824},{"s":"6.82","k":0.3112,"I":832},{"s":"6.82","k":0.3134,"I":835},{"s":"6.82","k":0.3157,"I":831},{"s":"6.82","k":0.3196,"I":806},{"s":"6.82","k":0.3253,"I":776},{"s":"6.82","k":0.331,"I":751},{"s":"6.82","k":0.3367,"I":734},{"s":"6.82","k":0.3423,"I":723},{"s":"6.82","k":0.3497,"I":716},{"s":"6.82","k":0.361,"I":711},{"s":"6.82","k":0.3894,"I":709},{"s":"6.82","k":0.45,"I":708},
{"s":"6.75","k":0.17,"I":605},{"s":"6.75","k":0.2193,"I":606},{"s":"6.75","k":0.2477,"I":607},{"s":"6.75","k":0.2647,"I":610},{"s":"6.75","k":0.276,"I":613},{"s":"6.75","k":0.2845,"I":618},{"s":"6.75","k":0.2907,"I":625},{"s":"6.75","k":0.2964,"I":640},{"s":"6.75","k":0.3004,"I":658},{"s":"6.75","k":0.3038,"I":681},{"s":"6.75","k":0.3066,"I":716},{"s":"6.75","k":0.3089,"I":756},{"s":"6.75","k":0.3112,"I":788},{"s":"6.75","k":0.3134,"I":804},{"s":"6.75","k":0.3146,"I":805},{"s":"6.75","k":0.3163,"I":796},{"s":"6.75","k":0.3185,"I":773},{"s":"6.75","k":0.3208,"I":736},{"s":"6.75","k":0.3231,"I":704},{"s":"6.75","k":0.3253,"I":684},{"s":"6.75","k":0.3287,"I":663},{"s":"6.75","k":0.3327,"I":646},{"s":"6.75","k":0.3367,"I":634},{"s":"6.75","k":0.344,"I":623},{"s":"6.75","k":0.3525,"I":616},{"s":"6.75","k":0.3667,"I":611},{"s":"6.75","k":0.3894,"I":608},{"s":"6.75","k":0.4177,"I":606},{"s":"6.75","k":0.45,"I":605},
{"s":"6.6","k":0.17,"I":513},{"s":"6.6","k":0.2477,"I":513},{"s":"6.6","k":0.2817,"I":515},{"s":"6.6","k":0.2873,"I":518},{"s":"6.6","k":0.293,"I":526},{"s":"6.6","k":0.2975,"I":538},{"s":"6.6","k":0.3014,"I":556},{"s":"6.6","k":0.3043,"I":578},{"s":"6.6","k":0.3077,"I":613},{"s":"6.6","k":0.3106,"I":656},{"s":"6.6","k":0.3129,"I":688},{"s":"6.6","k":0.3157,"I":698},{"s":"6.6","k":0.3185,"I":684},{"s":"6.6","k":0.3214,"I":651},{"s":"6.6","k":0.3242,"I":611},{"s":"6.6","k":0.327,"I":586},{"s":"6.6","k":0.3304,"I":559},{"s":"6.6","k":0.3338,"I":546},{"s":"6.6","k":0.3372,"I":534},{"s":"6.6","k":0.3412,"I":524},{"s":"6.6","k":0.3469,"I":518},{"s":"6.6","k":0.361,"I":515},{"s":"6.6","k":0.45,"I":515},
{"s":"6.55","k":0.17,"I":417},{"s":"6.55","k":0.2477,"I":418},{"s":"6.55","k":0.2703,"I":420},{"s":"6.55","k":0.2873,"I":423},{"s":"6.55","k":0.2987,"I":428},{"s":"6.55","k":0.3049,"I":433},{"s":"6.55","k":0.31,"I":454},{"s":"6.55","k":0.3146,"I":471},{"s":"6.55","k":0.3195,"I":496},{"s":"6.55","k":0.3231,"I":538},{"s":"6.55","k":0.3274,"I":549},{"s":"6.55","k":0.331,"I":511},{"s":"6.55","k":0.3355,"I":473},{"s":"6.55","k":0.3399,"I":459},{"s":"6.55","k":0.344,"I":446},{"s":"6.55","k":0.3497,"I":433},{"s":"6.55","k":0.3593,"I":423},{"s":"6.55","k":0.3724,"I":420},{"s":"6.55","k":0.45,"I":419},
{"s":"6.51","k":0.17,"I":318},{"s":"6.51","k":0.2477,"I":319},{"s":"6.51","k":0.276,"I":323},{"s":"6.51","k":0.293,"I":331},{"s":"6.51","k":0.3044,"I":341},{"s":"6.51","k":0.3157,"I":356},{"s":"6.51","k":0.3242,"I":368},{"s":"6.51","k":0.3287,"I":378},{"s":"6.51","k":0.331,"I":383},{"s":"6.51","k":0.3338,"I":380},{"s":"6.51","k":0.3372,"I":370},{"s":"6.51","k":0.3412,"I":356},{"s":"6.51","k":0.3469,"I":344},{"s":"6.51","k":0.3554,"I":334},{"s":"6.51","k":0.3667,"I":326},{"s":"6.51","k":0.3837,"I":321},{"s":"6.51","k":0.45,"I":319},
{"s":"6.48","k":0.17,"I":223},{"s":"6.48","k":0.276,"I":223},{"s":"6.48","k":0.293,"I":224},{"s":"6.48","k":0.3044,"I":228},{"s":"6.48","k":0.3129,"I":234},{"s":"6.48","k":0.3185,"I":241},{"s":"6.48","k":0.3242,"I":253},{"s":"6.48","k":0.3299,"I":267},{"s":"6.48","k":0.3338,"I":275},{"s":"6.48","k":0.3367,"I":278},{"s":"6.48","k":0.3395,"I":273},{"s":"6.48","k":0.344,"I":259},{"s":"6.48","k":0.3497,"I":246},{"s":"6.48","k":0.3565,"I":232},{"s":"6.48","k":0.3667,"I":226},{"s":"6.48","k":0.3894,"I":224},{"s":"6.48","k":0.45,"I":223},
{"s":"6.45","k":0.17,"I":123},{"s":"6.45","k":0.2477,"I":124},{"s":"6.45","k":0.3044,"I":126},{"s":"6.45","k":0.3185,"I":132},{"s":"6.45","k":0.327,"I":141},{"s":"6.45","k":0.3327,"I":150},{"s":"6.45","k":0.3361,"I":153},{"s":"6.45","k":0.3395,"I":151},{"s":"6.45","k":0.3452,"I":143},{"s":"6.45","k":0.3525,"I":132},{"s":"6.45","k":0.361,"I":126},{"s":"6.45","k":0.3894,"I":124},{"s":"6.45","k":0.45,"I":124}
],
"lab":[
{"s":"6.99","k":0.1717,"I":1021},{"s":"6.93","k":0.1717,"I":929},{"s":"6.86","k":0.1711,"I":839},{"s":"6.82","k":0.1711,"I":741},{"s":"6.75","k":0.1711,"I":643},{"s":"6.6","k":0.1728,"I":539},{"s":"6.55","k":0.1744,"I":451},{"s":"6.51","k":0.1758,"I":354},{"s":"6.48","k":0.1744,"I":249},{"s":"6.45","k":0.1733,"I":159},{"s":"6.44","k":0.1753,"I":54}
]
},
"layer":[
{
"data":{"name":"fit"},
"mark":{"type":"line","strokeWidth":2,"interpolate":"monotone"},
"encoding":{
"x":{"field":"k","type":"quantitative","scale":{"domain":[0.17,0.45],"nice":false,"zero":false},
"axis":{"orient":"bottom","values":[0.175,0.2,0.225,0.25,0.275,0.3,0.325,0.35,0.375,0.4,0.425,0.45],
"labelExpr":"round(datum.value*1000)%50==0 ? format(datum.value,'.2f') : ''",
"tickSize":{"condition":{"test":"round(datum.value*1000)%50==0","value":-7},"value":-4},
"tickColor":"#333","tickWidth":1.5,"domainColor":"#333","domainWidth":1.5,"grid":false,
"labelFont":"Liberation Sans","labelFontSize":26,"labelColor":"#000","labelPadding":14,"labelFlush":false,"labelOverlap":false,
"title":"k (r.l.u.)","titleFont":"Liberation Sans","titleFontSize":31,"titleFontWeight":"normal","titleColor":"#000","titlePadding":6}},
"y":{"field":"I","type":"quantitative","scale":{"domain":[0,1053],"nice":false,"zero":false},
"axis":{"orient":"left","values":[0,27.71,55.42,83.13,110.84,138.55,166.26,193.97,221.68,249.39,277.1,304.81,332.52,360.23,387.94,415.65,443.36,471.07,498.78,526.49,554.2,581.91,609.62,637.33,665.04,692.75,720.46,748.17,775.88,803.59,831.3,859.01,886.72,914.43,942.14,969.85,997.56,1025.27,1052.98],
"labels":false,"tickSize":-6,"tickColor":"#333","tickWidth":1.5,"domainColor":"#333","domainWidth":1.5,"grid":false,"title":null}},
"color":{"field":"s","type":"nominal","legend":null,"scale":{"domain":["6.99","6.93","6.86","6.82","6.75","6.6","6.55","6.51","6.48","6.45","6.44"],"range":["#000080","#8000ff","#008080","#ff8000","#808080","#000000","#ff0000","#00ff00","#0000ff","#00ffff","#ff00ff"]}}
}
},
{
"data":{"name":"pts"},
"mark":{"type":"circle","opacity":1,"stroke":"#000","strokeOpacity":0.25,"strokeWidth":0.6},
"encoding":{
"x":{"field":"k","type":"quantitative","scale":{"domain":[0.17,0.45],"nice":false,"zero":false},
"axis":{"orient":"top","values":[0.175,0.2,0.225,0.25,0.275,0.3,0.325,0.35,0.375,0.4,0.425,0.45],"labels":false,"tickSize":-5,"tickColor":"#333","tickWidth":1.5,"domainColor":"#333","domainWidth":1.5,"grid":false,"title":null}},
"y":{"field":"I","type":"quantitative","scale":{"domain":[0,1053],"nice":false,"zero":false},
"axis":{"orient":"right","values":[0,27.71,55.42,83.13,110.84,138.55,166.26,193.97,221.68,249.39,277.1,304.81,332.52,360.23,387.94,415.65,443.36,471.07,498.78,526.49,554.2,581.91,609.62,637.33,665.04,692.75,720.46,748.17,775.88,803.59,831.3,859.01,886.72,914.43,942.14,969.85,997.56,1025.27,1052.98],
"labels":false,"tickSize":-6,"tickColor":"#555","tickWidth":1.5,"domainColor":"#555","domainWidth":2,"grid":false,"title":null}},
"color":{"field":"s","type":"nominal","legend":null,"scale":{"domain":["6.99","6.93","6.86","6.82","6.75","6.6","6.55","6.51","6.48","6.45","6.44"],"range":["#000080","#8000ff","#008080","#ff8000","#808080","#000000","#ff0000","#00ff00","#0000ff","#00ffff","#ff00ff"]}},
"size":{"field":"s","type":"nominal","legend":null,"scale":{"domain":["6.99","6.93","6.86","6.82","6.75","6.6","6.55","6.51","6.48","6.45","6.44"],"range":[125,125,125,125,125,110,125,125,125,125,55]}}
}
},
{
"data":{"name":"pts"},
"mark":{"type":"circle","color":"white","opacity":0.75,"xOffset":-2.2,"yOffset":-2.8},
"encoding":{
"x":{"field":"k","type":"quantitative","axis":null},
"y":{"field":"I","type":"quantitative","axis":null},
"size":{"field":"s","type":"nominal","legend":null,"scale":{"domain":["6.99","6.93","6.86","6.82","6.75","6.6","6.55","6.51","6.48","6.45","6.44"],"range":[15,15,15,15,15,13,15,15,15,15,6]}}
}
},
{
"data":{"name":"lab"},
"mark":{"type":"text","text":"YBCO","align":"left","baseline":"alphabetic","font":"Liberation Sans","fontSize":32,"color":"#000"},
"encoding":{
"x":{"field":"k","type":"quantitative","axis":null},
"y":{"field":"I","type":"quantitative","axis":null}
}
},
{
"data":{"name":"lab"},
"mark":{"type":"text","align":"left","baseline":"alphabetic","font":"Liberation Sans","fontSize":19,"color":"#000","dx":91,"dy":12},
"encoding":{
"x":{"field":"k","type":"quantitative","axis":null},
"y":{"field":"I","type":"quantitative","axis":null},
"text":{"field":"s"}
}
},
{
"data":{"values":[{"t":"x2"}]},
"mark":{"type":"text","align":"left","baseline":"alphabetic","font":"Liberation Sans","fontSize":30,"color":"#8000ff"},
"encoding":{
"x":{"datum":0.3771,"type":"quantitative","axis":null},
"y":{"datum":926,"type":"quantitative","axis":null},
"text":{"field":"t"}
}
},
{
"data":{"values":[{"t":"Intensity at T= T"}]},
"mark":{"type":"text","align":"left","baseline":"alphabetic","angle":270,"font":"Liberation Sans","fontSize":41,"color":"#000"},
"encoding":{
"x":{"datum":0.1592,"type":"quantitative","axis":null},
"y":{"datum":248,"type":"quantitative","axis":null},
"text":{"field":"t"}
}
},
{
"data":{"values":[{"t":"c"}]},
"mark":{"type":"text","align":"left","baseline":"alphabetic","angle":270,"font":"Liberation Sans","fontSize":25,"color":"#000","dy":9},
"encoding":{
"x":{"datum":0.1592,"type":"quantitative","axis":null},
"y":{"datum":543,"type":"quantitative","axis":null},
"text":{"field":"t"}
}
},
{
"data":{"values":[{"t":"(arb. units)"}]},
"mark":{"type":"text","align":"left","baseline":"alphabetic","angle":270,"font":"Liberation Sans","fontSize":41,"color":"#000"},
"encoding":{
"x":{"datum":0.1592,"type":"quantitative","axis":null},
"y":{"datum":567,"type":"quantitative","axis":null},
"text":{"field":"t"}
}
}
],
"resolve":{"scale":{"size":"independent"},"axis":{"x":"independent","y":"independent"}}
}
